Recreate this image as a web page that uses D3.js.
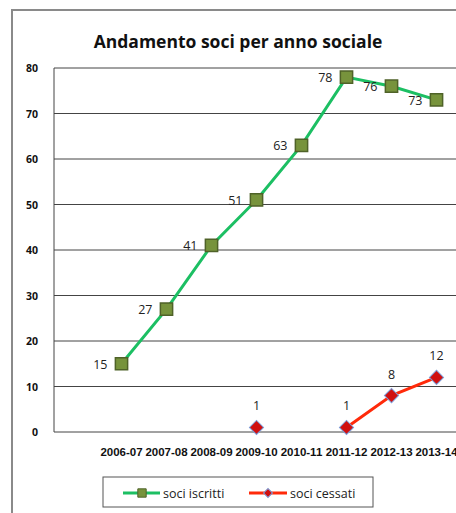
<!DOCTYPE html>
<html>
<head>
<meta charset="utf-8">
<script src="https://cdn.jsdelivr.net/npm/d3@7"></script>
<style>
  body { margin: 0; background: #fff; }
  svg { display: block; }
</style>
</head>
<body>
<div id="chart"></div>
<script>
// anni sociali (first slot left empty like in the original sheet)
const categories = ["", "2006-07", "2007-08", "2008-09", "2009-10", "2010-11", "2011-12", "2012-13", "2013-14"];
const sociIscritti = [null, 15, 27, 41, 51, 63, 78, 76, 73];
const sociCessati = [null, null, null, null, 1, null, 1, 8, 12];
const yTicks = [0, 10, 20, 30, 40, 50, 60, 70, 80];

const width = 456, height = 513;
const margin = {top: 68, left: 54};
const plotW = 45 * categories.length, plotH = 364;

const svg = d3.select("#chart").append("svg")
    .attr("width", width)
    .attr("height", height);

// outer chart frame
svg.append("rect")
    .attr("x", 12).attr("y", 10)
    .attr("width", 500).attr("height", 540)
    .attr("fill", "none")
    .attr("stroke", "#8a8a8a")
    .attr("stroke-width", 2);

svg.append("text")
    .attr("x", 238).attr("y", 48)
    .attr("text-anchor", "middle")
    .style("font-family", "Open Sans, sans-serif")
    .style("font-weight", "bold")
    .style("font-size", "17.5px")
    .attr("fill", "#111")
    .text("Andamento soci per anno sociale");

const x = d3.scaleBand()
    .domain(categories.map((d, i) => i))
    .range([margin.left, margin.left + plotW]);

const y = d3.scaleLinear()
    .domain([0, 80])
    .range([margin.top + plotH, margin.top]);

// gridlines
svg.append("g").selectAll("line")
    .data(yTicks)
    .enter().append("line")
    .attr("x1", margin.left).attr("x2", margin.left + plotW)
    .attr("y1", d => y(d)).attr("y2", d => y(d))
    .attr("stroke", "#444")
    .attr("stroke-width", 1);

svg.append("line")
    .attr("x1", margin.left).attr("x2", margin.left)
    .attr("y1", y(80)).attr("y2", y(0))
    .attr("stroke", "#444");

// y labels
svg.append("g").selectAll("text")
    .data(yTicks)
    .enter().append("text")
    .attr("x", 38)
    .attr("y", d => y(d) + 4)
    .attr("text-anchor", "end")
    .style("font-family", "Open Sans, sans-serif")
    .style("font-weight", "bold")
    .style("font-size", "10.5px")
    .attr("fill", "#111")
    .text(d => d);

// x labels
svg.append("g").selectAll("text")
    .data(categories)
    .enter().append("text")
    .attr("x", (d, i) => x(i) + x.bandwidth() / 2)
    .attr("y", 456)
    .attr("text-anchor", "middle")
    .style("font-family", "Liberation Sans, Arial, sans-serif")
    .style("font-weight", "bold")
    .style("font-size", "11.5px")
    .attr("fill", "#111")
    .text(d => d);

const cx = i => x(i) + x.bandwidth() / 2;

const line = d3.line()
    .defined(d => d.v != null)
    .x(d => cx(d.i))
    .y(d => y(d.v));

const green = sociIscritti.map((v, i) => ({v, i}));
const red = sociCessati.map((v, i) => ({v, i}));

svg.append("path")
    .datum(green)
    .attr("d", line)
    .attr("fill", "none")
    .attr("stroke", "#1cbf63")
    .attr("stroke-width", 3);

svg.append("path")
    .datum(red)
    .attr("d", line)
    .attr("fill", "none")
    .attr("stroke", "#ff2a0a")
    .attr("stroke-width", 3);

const sq = d3.symbol().type(d3.symbolSquare).size(150);
const dia = d3.symbol().type(d3.symbolSquare).size(100);

svg.append("g").selectAll("path")
    .data(green.filter(d => d.v != null))
    .enter().append("path")
    .attr("d", sq)
    .attr("transform", d => `translate(${cx(d.i)},${y(d.v)})`)
    .attr("fill", "#77933c")
    .attr("stroke", "#4f6228")
    .attr("stroke-width", 1.5);

svg.append("g").selectAll("path")
    .data(red.filter(d => d.v != null))
    .enter().append("path")
    .attr("d", dia)
    .attr("transform", d => `translate(${cx(d.i)},${y(d.v)}) rotate(45)`)
    .attr("fill", "#d01010")
    .attr("stroke", "#7d9bd6")
    .attr("stroke-width", 1);

// data labels
svg.append("g").selectAll("text")
    .data(green.filter(d => d.v != null))
    .enter().append("text")
    .attr("x", d => cx(d.i) - 14)
    .attr("y", d => y(d.v) + 5)
    .attr("text-anchor", "end")
    .style("font-family", "Open Sans, sans-serif")
    .style("font-size", "12.5px")
    .attr("fill", "#222")
    .text(d => d.v);

svg.append("g").selectAll("text")
    .data(red.filter(d => d.v != null))
    .enter().append("text")
    .attr("x", d => cx(d.i))
    .attr("y", d => y(d.v) - 17)
    .attr("text-anchor", "middle")
    .style("font-family", "Open Sans, sans-serif")
    .style("font-size", "12.5px")
    .attr("fill", "#222")
    .text(d => d.v);

// legend
const lg = svg.append("g");
lg.append("rect")
    .attr("x", 103).attr("y", 477)
    .attr("width", 270).attr("height", 30)
    .attr("fill", "#fff")
    .attr("stroke", "#555")
    .attr("stroke-width", 1);

lg.append("line")
    .attr("x1", 123).attr("x2", 160).attr("y1", 493).attr("y2", 493)
    .attr("stroke", "#1cbf63").attr("stroke-width", 3);
lg.append("path")
    .attr("d", d3.symbol().type(d3.symbolSquare).size(70))
    .attr("transform", "translate(142,493)")
    .attr("fill", "#77933c").attr("stroke", "#4f6228");
lg.append("text")
    .attr("x", 163).attr("y", 498)
    .style("font-family", "Open Sans, sans-serif")
    .style("font-size", "12.5px")
    .attr("fill", "#222")
    .text("soci iscritti");

lg.append("line")
    .attr("x1", 249).attr("x2", 287).attr("y1", 493).attr("y2", 493)
    .attr("stroke", "#ff2a0a").attr("stroke-width", 3);
lg.append("path")
    .attr("d", d3.symbol().type(d3.symbolSquare).size(40))
    .attr("transform", "translate(268,493) rotate(45)")
    .attr("fill", "#d01010").attr("stroke", "#7d9bd6");
lg.append("text")
    .attr("x", 290).attr("y", 498)
    .style("font-family", "Open Sans, sans-serif")
    .style("font-size", "12.5px")
    .attr("fill", "#222")
    .text("soci cessati");
</script>
</body>
</html>
